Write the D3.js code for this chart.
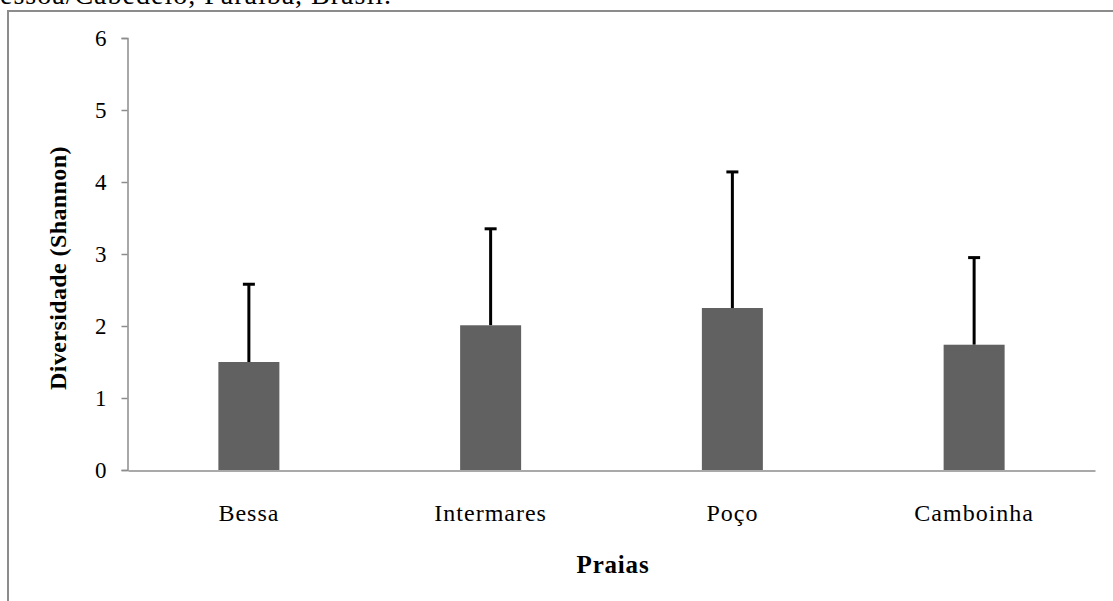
<!DOCTYPE html>
<html>
<head>
<meta charset="utf-8">
<script src="https://cdn.jsdelivr.net/npm/d3@7"></script>
<style>
  body { margin: 0; background: #fff; }
  svg text { font-family: "Liberation Serif", "Times New Roman", "DejaVu Serif", serif; }
</style>
</head>
<body>
<div class="chart" style="width:1113px;height:601px;"></div>
<script>
// data
const praias = ['Bessa', 'Intermares', 'Poço', 'Camboinha'];
const diversidade = [1.50, 2.01, 2.25, 1.74];
const erroSuperior = [2.58, 3.35, 4.14, 2.95];
const yTicks = [0, 1, 2, 3, 4, 5, 6];

const width = 1113, height = 601;
const serif = '"Liberation Serif", "Times New Roman", "DejaVu Serif", serif';

const svg = d3.select('.chart')
    .append('svg')
    .attr('width', width)
    .attr('height', height);

// caption cut off at top of page
svg.append('text')
    .attr('x', 392)
    .attr('y', 4)
    .attr('text-anchor', 'end')
    .style('font-family', serif)
    .style('font-size', '28px')
    .style('letter-spacing', '1px')
    .text('João Pessoa/Cabedelo, Paraíba, Brasil.');

// chart frame (only top and left visible)
svg.append('rect')
    .attr('x', 8)
    .attr('y', 11)
    .attr('width', width + 20)
    .attr('height', height + 20)
    .attr('fill', 'none')
    .attr('stroke', '#8c8c8c')
    .attr('stroke-width', 2);

const x = d3.scaleBand()
    .domain(praias)
    .range([128, 1095]);

const y = d3.scaleLinear()
    .domain([0, 6])
    .range([470, 38]);

// y axis
const yAxis = svg.append('g')
    .attr('transform', 'translate(127.5,0)')
    .call(d3.axisLeft(y).tickValues(yTicks).tickSize(6).tickPadding(15).tickFormat(d3.format('d')));
yAxis.select('.domain').attr('stroke', '#8c8c8c').attr('stroke-width', 1.5);
yAxis.selectAll('.tick line').attr('stroke', '#8c8c8c').attr('stroke-width', 1.5);
yAxis.selectAll('.tick text')
    .style('font-size', '23px')
    .style('font-family', serif)
    .attr('fill', '#000');

// x axis
const xAxis = svg.append('g')
    .attr('transform', 'translate(0,470.5)')
    .call(d3.axisBottom(x).tickSize(0).tickPadding(33));
xAxis.select('.domain').attr('stroke', '#8c8c8c').attr('stroke-width', 1.5);
xAxis.selectAll('.tick text')
    .style('font-size', '24px')
    .style('letter-spacing', '1px')
    .style('font-family', serif)
    .attr('fill', '#000');

const barW = 61;

// error bars (upper only)
praias.forEach((p, i) => {
    const cx = x(p) + x.bandwidth() / 2;
    svg.append('line')
        .attr('x1', cx).attr('x2', cx)
        .attr('y1', y(diversidade[i]))
        .attr('y2', y(erroSuperior[i]))
        .attr('stroke', '#000')
        .attr('stroke-width', 3);
    svg.append('line')
        .attr('x1', cx - 6).attr('x2', cx + 6)
        .attr('y1', y(erroSuperior[i]))
        .attr('y2', y(erroSuperior[i]))
        .attr('stroke', '#000')
        .attr('stroke-width', 3);
});

// bars
svg.selectAll('rect.bar')
    .data(praias)
    .enter()
    .append('rect')
    .attr('class', 'bar')
    .attr('x', d => x(d) + x.bandwidth() / 2 - barW / 2)
    .attr('y', (d, i) => y(diversidade[i]))
    .attr('width', barW)
    .attr('height', (d, i) => y(0) - y(diversidade[i]))
    .attr('fill', '#616161');

// axis titles
svg.append('text')
    .attr('x', 613)
    .attr('y', 573)
    .attr('text-anchor', 'middle')
    .style('font-family', serif)
    .style('font-size', '25px')
    .style('letter-spacing', '0.8px')
    .style('font-weight', 'bold')
    .text('Praias');

svg.append('text')
    .attr('transform', 'translate(66,268) rotate(-90)')
    .attr('text-anchor', 'middle')
    .style('font-family', serif)
    .style('font-size', '24px')
    .style('letter-spacing', '0.4px')
    .style('font-weight', 'bold')
    .text('Diversidade (Shannon)');
</script>
</body>
</html>
